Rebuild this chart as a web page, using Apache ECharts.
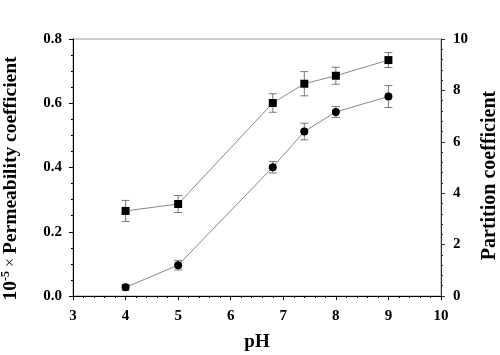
<!DOCTYPE html>
<html>
<head>
<meta charset="utf-8">
<script src="https://cdn.jsdelivr.net/npm/echarts@6/dist/echarts.min.js"></script>
<style>html,body{margin:0;padding:0;background:#fff}#c{width:500px;height:355px}</style>
</head>
<body>
<div id="c"></div>
<script>
const pH = [4, 5, 6.8, 7.4, 8, 9];
const permeability = [0.027, 0.096, 0.401, 0.512, 0.573, 0.621];
const permeabilityErr = [0.009, 0.015, 0.018, 0.026, 0.017, 0.034];
const partition = [3.31, 3.58, 7.51, 8.26, 8.57, 9.18];
const partitionErr = [0.41, 0.33, 0.36, 0.47, 0.33, 0.29];
const leftTicks = ['0.0', '0.2', '0.4', '0.6', '0.8'];
const rightTicks = ['0', '2', '4', '6', '8', '10'];

const font = '"Liberation Serif", "Times New Roman", serif';
const chart = echarts.init(document.getElementById('c'));

function errSeries(vals, errs, yIdx) {
  return {
    type: 'custom',
    yAxisIndex: yIdx,
    data: pH.map((x, i) => [x, vals[i] - errs[i], vals[i] + errs[i]]),
    z: 1,
    silent: true,
    renderItem: function (params, api) {
      const lo = api.coord([api.value(0), api.value(1)]);
      const hi = api.coord([api.value(0), api.value(2)]);
      const w = 4;
      const st = { stroke: '#777', lineWidth: 1 };
      return {
        type: 'group',
        children: [
          { type: 'line', shape: { x1: lo[0], y1: lo[1], x2: hi[0], y2: hi[1] }, style: st },
          { type: 'line', shape: { x1: lo[0] - w, y1: lo[1], x2: lo[0] + w, y2: lo[1] }, style: st },
          { type: 'line', shape: { x1: hi[0] - w, y1: hi[1], x2: hi[0] + w, y2: hi[1] }, style: st }
        ]
      };
    }
  };
}

const labelStyle = { fontFamily: font, fontWeight: 'bold', fontSize: 15, color: '#000' };

chart.setOption({
  animation: false,
  backgroundColor: '#fff',
  grid: { left: 73, right: 59, top: 39, bottom: 59, show: true, borderColor: '#999', borderWidth: 1, containLabel: false, outerBoundsMode: 'none' },
  xAxis: {
    type: 'value', min: 3, max: 10, interval: 1,
    name: 'pH', nameLocation: 'middle', nameGap: 37,
    nameTextStyle: { fontFamily: font, fontSize: 19, fontWeight: 'bold', color: '#000' },
    axisLine: { show: true, lineStyle: { color: '#000', width: 1 } },
    axisTick: { show: true, inside: false, length: 4, lineStyle: { color: '#000' } },
    minorTick: { show: true, splitNumber: 5, length: 2, lineStyle: { color: '#000' } },
    splitLine: { show: false },
    axisLabel: Object.assign({ margin: 13 }, labelStyle)
  },
  yAxis: [
    {
      type: 'value', min: 0, max: 0.8, interval: 0.2, position: 'left',
      name: '{a|10}{s|-5}{x| × }{a|Permeability coefficient}',
      nameLocation: 'middle', nameGap: 51, nameRotate: 90,
      nameTextStyle: {
        padding: [0, 22, 0, 0],
        rich: {
          a: { fontFamily: font, fontSize: 19.5, fontWeight: 'bold', color: '#000' },
          s: { fontFamily: font, fontSize: 12, fontWeight: 'bold', color: '#000', verticalAlign: 'top', padding: [0, 0, 10, 0] },
          x: { fontFamily: font, fontSize: 16, color: '#000' }
        }
      },
      axisLine: { show: true, lineStyle: { color: '#000', width: 1 } },
      axisTick: { show: true, length: 4, lineStyle: { color: '#000' } },
      minorTick: { show: true, splitNumber: 4, length: 2, lineStyle: { color: '#000' } },
      splitLine: { show: false },
      axisLabel: Object.assign({ margin: 11, formatter: function (v) { return leftTicks[Math.round(v / 0.2)]; } }, labelStyle)
    },
    {
      type: 'value', min: 0, max: 10, interval: 2, position: 'right',
      name: 'Partition coefficient',
      nameLocation: 'middle', nameGap: 39, nameRotate: 90,
      nameTextStyle: { fontFamily: font, fontSize: 20, fontWeight: 'bold', color: '#000', padding: [0, 16, 0, 0] },
      axisLine: { show: true, lineStyle: { color: '#333', width: 1 } },
      axisTick: { show: true, length: 4, lineStyle: { color: '#333' } },
      minorTick: { show: true, splitNumber: 5, length: 2, lineStyle: { color: '#333' } },
      splitLine: { show: false },
      axisLabel: Object.assign({ margin: 12, formatter: function (v) { return rightTicks[Math.round(v / 2)]; } }, labelStyle)
    }
  ],
  series: [
    errSeries(permeability, permeabilityErr, 0),
    errSeries(partition, partitionErr, 1),
    {
      type: 'line', yAxisIndex: 0, z: 3,
      data: pH.map((x, i) => [x, permeability[i]]),
      symbol: 'circle', symbolSize: 8,
      itemStyle: { color: '#000' },
      lineStyle: { color: '#888', width: 1 }
    },
    {
      type: 'line', yAxisIndex: 1, z: 3,
      data: pH.map((x, i) => [x, partition[i]]),
      symbol: 'rect', symbolSize: 8,
      itemStyle: { color: '#000' },
      lineStyle: { color: '#888', width: 1 }
    }
  ]
});
</script>
</body>
</html>
